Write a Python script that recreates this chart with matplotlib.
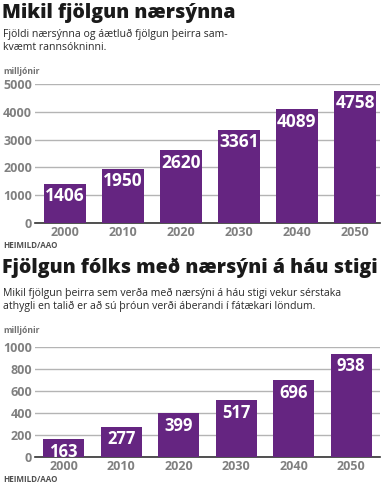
import matplotlib
matplotlib.use("Agg")
import matplotlib.pyplot as plt

years = ["2000", "2010", "2020", "2030", "2040", "2050"]
myopia = [1406, 1950, 2620, 3361, 4089, 4758]
high_myopia = [163, 277, 399, 517, 696, 938]
yticks_top = [0, 1000, 2000, 3000, 4000, 5000]
yticks_bottom = [0, 200, 400, 600, 800, 1000]

title1 = "Mikil fjölgun nærsýnna"
sub1 = "Fjöldi nærsýnna og áætluð fjölgun þeirra sam-\nkvæmt rannsókninni."
title2 = "Fjölgun fólks með nærsýni á háu stigi"
sub2 = ("Mikil fjölgun þeirra sem verða með nærsýni á háu stigi vekur sérstaka\n"
        "athygli en talið er að sú þróun verði áberandi í fátækari löndum.")
unit = "milljónir"
source = "HEIMILD/AAO"

PURPLE = "#652581"
GRID = "#b4b4b4"
TICK = "#808080"
W, H = 390, 484
FONT = "Open Sans"

fig = plt.figure(figsize=(W / 100, H / 100), dpi=100)
fig.patch.set_facecolor("white")


def fx(x):
    return x / W


def fy(y):
    return 1 - y / H


def txt(x, y, s, **kw):
    fig.text(fx(x), fy(y), s, family=FONT, va="top", ha="left", **kw)


def make_axes(top_px, bottom_px, vals, yticks, xlim, width, label_size):
    ax = fig.add_axes([fx(35), fy(bottom_px), fx(380) - fx(35), (bottom_px - top_px) / H])
    xs = list(range(len(vals)))
    ax.bar(xs, vals, width=width, color=PURPLE, zorder=3)
    ax.set_ylim(0, yticks[-1])
    ax.set_xlim(*xlim)
    ax.set_yticks(yticks)
    ax.set_xticks(xs)
    ax.set_xticklabels(years)
    ax.yaxis.grid(True, color=GRID, linewidth=1.0, zorder=0)
    ax.set_axisbelow(True)
    for s in ["top", "right", "left"]:
        ax.spines[s].set_visible(False)
    ax.spines["bottom"].set_color("#333333")
    ax.spines["bottom"].set_linewidth(1.2)
    ax.tick_params(axis="both", length=0, labelcolor=TICK)
    ax.tick_params(axis="y", pad=2)
    ax.tick_params(axis="x", pad=2)
    for lab in ax.get_xticklabels() + ax.get_yticklabels():
        lab.set_family(FONT)
        lab.set_fontweight("bold")
        lab.set_fontsize(9)
    for x, v in zip(xs, vals):
        ax.annotate(str(v), (x, v), xytext=(0, -2.5), textcoords="offset points",
                    ha="center", va="top", color="white", fontsize=label_size,
                    fontweight="bold", family=FONT, zorder=4)
    return ax


# Top chart
txt(2, 3, title1, fontsize=14, fontweight="heavy", color="#1a1a1a")
txt(3, 29, sub1, fontsize=7.6, color="#2a2a2a", linespacing=1.25)
txt(3, 67, unit, fontsize=6.2, fontweight="bold", color="#707070")
make_axes(84, 223, myopia, yticks_top, (-0.51, 5.43), 0.72, 12.5)
txt(3, 241, source, fontsize=5.8, fontweight="bold", color="#505050")

# Bottom chart
txt(2, 258, title2, fontsize=14, fontweight="heavy", color="#1a1a1a")
txt(3, 288, sub2, fontsize=7.6, color="#2a2a2a", linespacing=1.25)
txt(3, 326, unit, fontsize=6.2, fontweight="bold", color="#707070")
make_axes(347, 457, high_myopia, yticks_bottom, (-0.5, 5.5), 0.71, 12)
txt(3, 475, source, fontsize=5.8, fontweight="bold", color="#505050")

fig.savefig("out.png", dpi=100, facecolor="white")
